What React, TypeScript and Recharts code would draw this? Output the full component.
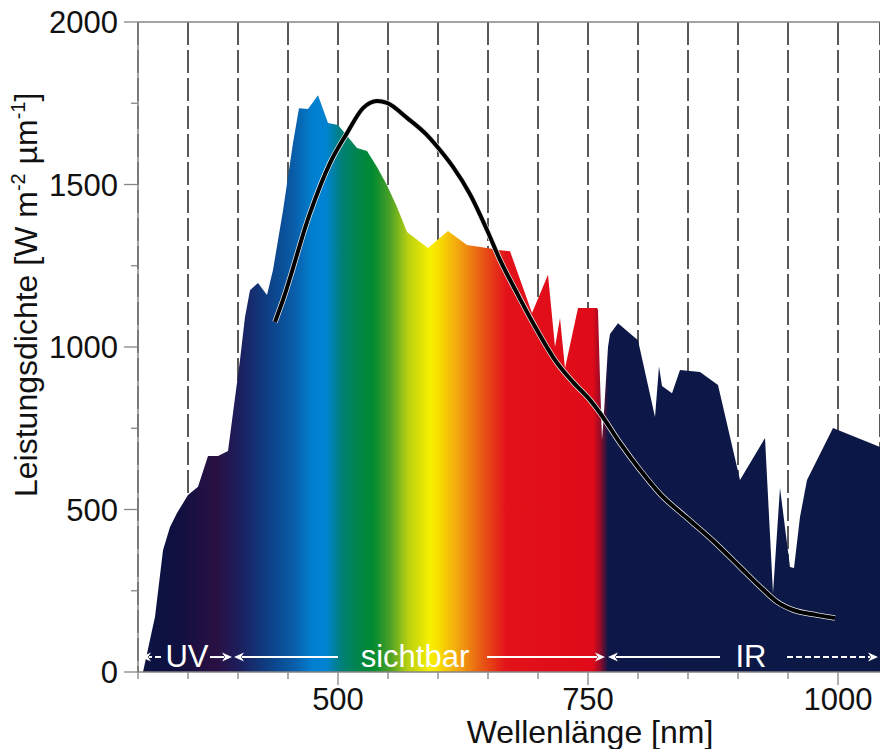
import {
  Area,
  CartesianGrid,
  ComposedChart,
  Line,
  ReferenceDot,
  ReferenceLine,
  XAxis,
  YAxis,
} from "recharts";

const FONT = '"Liberation Sans", Arial, Helvetica, sans-serif';
const AXIS = "#858585";
const INK = "#111";

// Measured irradiance at ground level, wavelength in nm
const wavelengths = [
  300, 305, 317, 325, 332, 339, 350, 360, 370, 380, 390, 395, 402, 407, 412,
  420, 429, 435, 445, 455, 461, 470, 480, 490, 500, 519, 529, 539, 549, 559,
  569, 590, 610, 629, 649, 662, 672, 694, 710, 717, 722, 727, 740, 759, 760,
  762, 764, 766, 770, 772, 780, 800, 817, 821, 824, 834, 842, 862, 880, 902,
  927, 935, 942, 952, 956, 962, 969, 995, 1042,
];
const irradiance = [
  0, 0, 170, 375, 446, 489, 545, 570, 665, 665, 680, 797, 960, 1092, 1175,
  1197, 1160, 1237, 1420, 1628, 1735, 1732, 1775, 1689, 1683, 1612, 1603, 1554,
  1498, 1431, 1354, 1305, 1357, 1314, 1305, 1298, 1295, 1105, 1222, 1000, 1089,
  935, 1120, 1120, 1115, 900, 714, 800, 1000, 1040, 1073, 1021, 785, 940, 880,
  858, 929, 923, 883, 591, 720, 243, 566, 323, 320, 477, 591, 751, 692,
];

// Black body reference curve
const bbWavelengths = [
  437, 445, 472, 492, 509, 525, 539, 549, 569, 589, 602, 615, 632, 649, 662,
  679, 695, 719, 735, 752, 762, 782, 802, 822, 849, 875, 902, 925, 939, 955,
  979, 997,
];
const bbValues = [
  1077, 1145, 1412, 1566, 1658, 1735, 1757, 1751, 1705, 1652, 1606, 1554, 1470,
  1360, 1268, 1166, 1074, 951, 892, 837, 797, 705, 622, 548, 474, 404, 323, 254,
  216, 191, 175, 166,
];

const X_MIN = 300;
const X_MAX = 1042;
const xTicks = [
  300, 350, 400, 450, 500, 550, 600, 650, 700, 750, 800, 850, 900, 950, 1000,
];
const xLabelled = [500, 750, 1000];
const yTicks = [0, 250, 500, 750, 1000, 1250, 1500, 1750, 2000];
const yLabelled = [0, 500, 1000, 1500, 2000];

// Band annotations along the bottom of the plot
const bandNames = ["UV", "sichtbar", "IR"];
const bandCentres = [349, 577, 913];
const ANNOT_Y = 46;
const arrowTails = [323, 372, 500, 649, 882, 949];
const arrowTips = [303, 394, 396, 767, 770, 1040];
const arrowDashed = [true, false, false, false, false, true];

// colour ramp of the filled spectrum
const spectrumStops: [number, string][] = [
  [300, "#0b1442"],
  [340, "#0f1040"],
  [378, "#2a1042"],
  [400, "#1d1d5c"],
  [430, "#0d3f84"],
  [455, "#0a5ca8"],
  [475, "#0080d0"],
  [488, "#0082d2"],
  [503, "#00807a"],
  [520, "#00854a"],
  [535, "#008a30"],
  [552, "#4aa028"],
  [570, "#b8d010"],
  [592, "#f7ef00"],
  [600, "#f8e000"],
  [622, "#f2a010"],
  [645, "#e85514"],
  [668, "#e2121a"],
  [755, "#e00a18"],
  [762, "#9a0a28"],
  [770, "#0e1848"],
  [1042, "#0b1846"],
];

const spectrum = wavelengths.map((nm, i) => ({ nm, w: irradiance[i] }));
const blackBody = bbWavelengths.map((nm, i) => ({ nm, w: bbValues[i] }));

function XTick({ x, y, payload }: any) {
  const major = xLabelled.includes(payload.value);
  return (
    <g>
      <line
        x1={x}
        y1={y}
        x2={x}
        y2={y + (major ? 13 : 7)}
        stroke={AXIS}
        strokeWidth={1.3}
      />
      {major && (
        <text
          x={x}
          y={y + 38}
          textAnchor="middle"
          fontSize={31}
          fontFamily={FONT}
          fill={INK}
        >
          {payload.value}
        </text>
      )}
    </g>
  );
}

function YTick({ x, y, payload }: any) {
  const major = yLabelled.includes(payload.value);
  return (
    <g>
      <line
        x1={x - (major ? 14 : 7)}
        y1={y}
        x2={x}
        y2={y}
        stroke={AXIS}
        strokeWidth={1.3}
      />
      {major && (
        <text
          x={x - 20}
          y={y + 11}
          textAnchor="end"
          fontSize={31}
          fontFamily={FONT}
          fill={INK}
        >
          {payload.value}
        </text>
      )}
    </g>
  );
}

const yTitle = () => (
  <text
    x={37}
    y={497}
    transform="rotate(-90, 37, 497)"
    fontSize={32}
    fontFamily={FONT}
    fill={INK}
  >
    Leistungsdichte [W m
    <tspan dy={-12} fontSize={20}>
      -2
    </tspan>
    <tspan dy={12}> µm</tspan>
    <tspan dy={-12} fontSize={20}>
      -1
    </tspan>
    <tspan dy={12}>]</tspan>
  </text>
);

const xTitle = () => (
  <text
    x={590}
    y={743}
    textAnchor="middle"
    fontSize={32}
    fontFamily={FONT}
    fill={INK}
  >
    Wellenlänge [nm]
  </text>
);

// white arrow with the head at (x2, y2)
function arrowShape(dashed: boolean) {
  return (p: any) => {
    const { x1, y1, x2, y2 } = p;
    const dir = x2 > x1 ? 1 : -1;
    const hx = x2 - dir * 10;
    return (
      <g>
        <line
          x1={x1}
          y1={y1}
          x2={hx + dir * 2}
          y2={y2}
          stroke="#fff"
          strokeWidth={2}
          strokeDasharray={dashed ? "6 3" : undefined}
        />
        <polygon
          points={`${x2},${y2} ${hx},${y2 - 4.5} ${hx + dir * 3},${y2} ${hx},${y2 + 4.5}`}
          fill="#fff"
        />
      </g>
    );
  };
}

function bandLabel(text: string) {
  return (p: any) => (
    <text
      x={p.cx}
      y={p.cy + 10}
      textAnchor="middle"
      fontSize={31}
      fontFamily={FONT}
      fill="#fff"
    >
      {text}
    </text>
  );
}

export default function App() {
  return (
    <div
      style={{
        position: "absolute",
        left: 0,
        top: 0,
        width: 880,
        height: 749,
        overflow: "hidden",
        background: "#fff",
      }}
    >
      <ComposedChart
        width={880}
        height={749}
        margin={{ top: 22, right: 0, bottom: 0, left: 0 }}
      >
        <defs>
          <linearGradient id="spectrum" x1="0" y1="0" x2="1" y2="0">
            {spectrumStops.map(([nm, c]) => (
              <stop
                key={nm}
                offset={(nm - X_MIN) / (X_MAX - X_MIN)}
                stopColor={c}
              />
            ))}
          </linearGradient>
        </defs>
        <CartesianGrid
          horizontal={false}
          stroke="#000"
          strokeWidth={1.3}
          strokeDasharray="23 5"
        />
        <XAxis
          dataKey="nm"
          type="number"
          domain={[X_MIN, X_MAX]}
          ticks={xTicks}
          interval={0}
          allowDataOverflow
          height={77}
          tickSize={0}
          tickMargin={0}
          tickLine={false}
          tick={<XTick />}
          axisLine={{ stroke: AXIS, strokeWidth: 1.5 }}
          label={{ content: xTitle }}
        />
        <YAxis
          type="number"
          domain={[0, 2000]}
          ticks={yTicks}
          interval={0}
          allowDataOverflow
          width={138}
          tickSize={0}
          tickMargin={0}
          tickLine={false}
          tick={<YTick />}
          axisLine={{ stroke: AXIS, strokeWidth: 1.5 }}
          label={{ content: yTitle }}
        />
        <ReferenceLine y={2000} stroke={AXIS} strokeWidth={1.5} />
        <Area
          data={spectrum}
          dataKey="w"
          type="linear"
          stroke="none"
          fill="url(#spectrum)"
          fillOpacity={1}
          isAnimationActive={false}
        />
        <Line
          data={blackBody}
          dataKey="w"
          type="monotone"
          stroke="#e8e8e8"
          strokeWidth={5.5}
          dot={false}
          activeDot={false}
          isAnimationActive={false}
        />
        <Line
          data={blackBody}
          dataKey="w"
          type="monotone"
          stroke="#000"
          strokeWidth={4}
          dot={false}
          activeDot={false}
          isAnimationActive={false}
        />
        {arrowTails.map((from, i) => (
          <ReferenceLine
            key={`arrow-${i}`}
            segment={[
              { x: from, y: ANNOT_Y },
              { x: arrowTips[i], y: ANNOT_Y },
            ]}
            shape={arrowShape(arrowDashed[i])}
          />
        ))}
        {bandNames.map((name, i) => (
          <ReferenceDot
            key={name}
            x={bandCentres[i]}
            y={ANNOT_Y}
            shape={bandLabel(name)}
          />
        ))}
      </ComposedChart>
    </div>
  );
}
